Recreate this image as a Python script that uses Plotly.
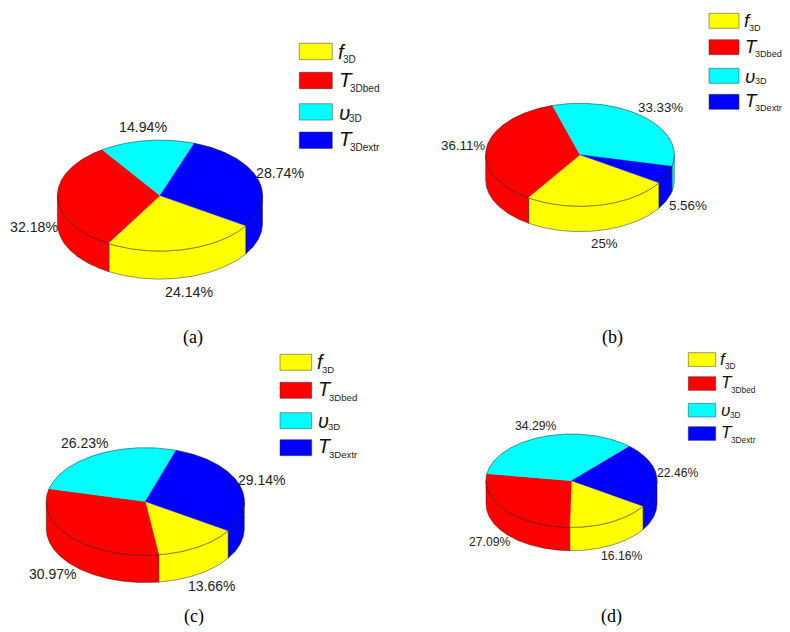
import numpy as np
import plotly.graph_objects as go

# Data
colors = ["#ffff00", "#ff0000", "#00ffff", "#0000ff"]
symbols = ["f", "T", "υ", "T"]
subscripts = ["3D", "3Dbed", "3D", "3Dextr"]

values_a = [24.14, 32.18, 14.94, 28.74]
values_b = [25, 36.11, 33.33, 5.56]
values_c = [13.66, 30.97, 26.23, 29.14]
values_d = [16.16, 27.09, 34.29, 22.46]

texts_a = ["24.14%", "32.18%", "14.94%", "28.74%"]
texts_b = ["25%", "36.11%", "33.33%", "5.56%"]
texts_c = ["13.66%", "30.97%", "26.23%", "29.14%"]
texts_d = ["16.16%", "27.09%", "34.29%", "22.46%"]

FONT = "Liberation Sans"
EDGE = "rgba(20,20,20,0.75)"
START = 33  # first wedge starts here, degrees clockwise from east

fig = go.Figure()


def ring(cx, cy, rx, ry, a0, a1, dz=0):
    t = np.radians(np.linspace(a0, a1, max(int(abs(a1 - a0)) * 2, 2)))
    return cx + rx * np.cos(t), cy + ry * np.sin(t) + dz


def poly(x, y, fill, line=EDGE, width=0.6):
    fig.add_trace(go.Scatter(x=x, y=y, mode="lines", fill="toself", fillcolor=fill,
                             line=dict(color=line, width=width), hoverinfo="skip"))


def label(x, y, text, size, anchor="center", family=FONT, color="#222222"):
    fig.add_annotation(x=x, y=y, xref="x", yref="y", text=text, showarrow=False,
                       xanchor=anchor, yanchor="middle", borderpad=0,
                       font=dict(family=family, size=size, color=color))


def pie(values, cx, cy, rx, ry, depth):
    edges = START + np.concatenate([[0], np.cumsum(values)]) * 3.6
    # side walls, only the part facing the viewer
    for i in range(4):
        for lo, hi in [(0, 180), (360, 540)]:
            a0, a1 = max(edges[i], lo), min(edges[i + 1], hi)
            if a1 <= a0:
                continue
            xt, yt = ring(cx, cy, rx, ry, a0, a1)
            xb, yb = ring(cx, cy, rx, ry, a1, a0, depth)
            poly(np.r_[xt, xb, xt[0]], np.r_[yt, yb, yt[0]], colors[i])
    # top faces
    for i in range(4):
        xt, yt = ring(cx, cy, rx, ry, edges[i], edges[i + 1])
        poly(np.r_[cx, xt, cx], np.r_[cy, yt, cy], colors[i], line=colors[i], width=0.4)
    xt, yt = ring(cx, cy, rx, ry, 0, 360)
    fig.add_trace(go.Scatter(x=xt, y=yt, mode="lines", hoverinfo="skip",
                             line=dict(color=EDGE, width=0.6)))


def legend(x0, x1, rows, height):
    s = (x1 - x0) / 33
    sym_dx = [4.4, 5.2, 5.2, 5.2]
    sym_dy = [-0.5, -1, 0.8, -1.8]
    sub_dx = [10, 16.7, 16, 16.7]
    sub_dy = [7.5, 7.5, 6.2, 7.2]
    for i, top in enumerate(rows):
        fig.add_shape(type="rect", x0=x0, x1=x1, y0=top, y1=top + height, xref="x", yref="y",
                      fillcolor=colors[i], line=dict(color="rgba(40,40,40,0.45)", width=1))
        mid = top + height / 2
        label(x1 + sym_dx[i] * s, mid + sym_dy[i] * s, "<i>%s</i>" % symbols[i], 20.5 * s, "left", color="#111111")
        label(x1 + sub_dx[i] * s, mid + sub_dy[i] * s, subscripts[i], 10 * s, "left")


# Panel (a)
pie(values_a, 160, 195.6, 102.5, 55.5, 28)
legend(299.3, 332.3, [43.3, 72.3, 103.7, 132], 16.4)
for t, (x, y) in zip(texts_a, [(189.3, 292), (34, 226.7), (143.3, 126.7), (280.7, 173.3)]):
    label(x, y, t, 14.2)
label(193, 337, "(a)", 18, family="Liberation Serif", color="#000000")

# Panel (b)
pie(values_b, 580, 154.8, 94.3, 51.5, 25.3)
legend(709, 739, [13.3, 39.7, 68.3, 94.3], 15)
for t, (x, y) in zip(texts_b, [(604, 243.3), (463, 145.3), (660, 107.7), (688.3, 205.7)]):
    label(x, y, t, 13.3)
label(612, 337, "(b)", 18, family="Liberation Serif", color="#000000")

# Panel (c)
pie(values_c, 145.3, 501.5, 99, 53.8, 27.3)
legend(280, 311.7, [354.3, 382.3, 412.7, 439.7], 16)
for t, (x, y) in zip(texts_c, [(211, 586.3), (52.7, 574.3), (84.3, 443.3), (261.3, 479.7)]):
    label(x, y, t, 14)
label(193.5, 616, "(c)", 18, family="Liberation Serif", color="#000000")

# Panel (d)
pie(values_d, 571.5, 480.7, 85.5, 46.7, 23.3)
legend(688.3, 715.7, [352.7, 376.7, 403.3, 426.7], 13.7)
for t, (x, y) in zip(texts_d, [(621.3, 556), (489.3, 541.7), (535.3, 426), (677, 473.3)]):
    label(x, y, t, 12.2)
label(611.7, 616, "(d)", 18, family="Liberation Serif", color="#000000")

fig.update_xaxes(range=[0, 790], visible=False, fixedrange=True)
fig.update_yaxes(range=[632, 0], visible=False, fixedrange=True)
fig.update_layout(width=790, height=632, margin=dict(l=0, r=0, t=0, b=0),
                  showlegend=False, plot_bgcolor="white", paper_bgcolor="white")

# the page's default body margin would push the figure 8px down and right
fig.write_html("out.html", config=dict(displayModeBar=False),
               post_script="document.body.style.margin='0';document.body.style.overflow='hidden';")
